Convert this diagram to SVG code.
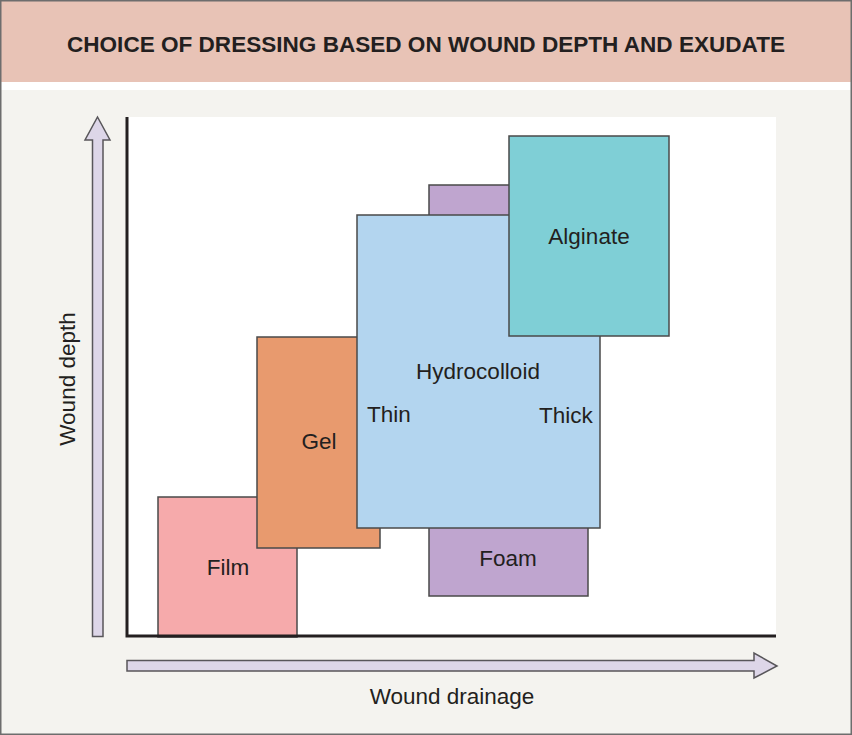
<svg xmlns="http://www.w3.org/2000/svg" width="852" height="735" viewBox="0 0 852 735">
<style>
.lbl{font-family:"Liberation Sans",Arial,sans-serif;font-size:22.5px;fill:#231f20;text-anchor:middle}
.box{stroke:#4a4a4a;stroke-width:1.5}
.arrow{fill:#ddd6e8;stroke:#58565a;stroke-width:1.5}
</style>
<rect x="0" y="0" width="852" height="735" fill="#f4f3ef"/>
<rect x="0" y="0" width="852" height="82" fill="#e8c3b6"/>
<rect x="0" y="82" width="852" height="8" fill="#ffffff"/>
<rect x="0.75" y="0.75" width="850.5" height="733.5" fill="none" stroke="#6d6d6d" stroke-width="1.5"/>
<text x="426" y="52" font-family="'Liberation Sans',Arial,sans-serif" font-weight="bold" font-size="21.5" fill="#231f20" text-anchor="middle" textLength="718" lengthAdjust="spacingAndGlyphs">CHOICE OF DRESSING BASED ON WOUND DEPTH AND EXUDATE</text>
<rect x="127" y="117" width="649" height="519" fill="#ffffff"/>
<g id="foam"><rect class="box" x="429" y="185" width="159" height="411" fill="#bfa5cf"/><text class="lbl" x="508" y="566">Foam</text></g>
<g id="film"><rect class="box" x="158" y="497" width="139" height="140" fill="#f6aaab"/><text class="lbl" x="228" y="575">Film</text></g>
<g id="gel"><rect class="box" x="257" y="337" width="123" height="211" fill="#e89a6e"/><text class="lbl" x="319" y="449">Gel</text></g>
<g id="hydrocolloid"><rect class="box" x="357" y="215" width="243" height="313" fill="#b3d5ef"/><text class="lbl" x="478" y="379">Hydrocolloid</text><text class="lbl" x="389" y="422">Thin</text><text class="lbl" x="566" y="423">Thick</text></g>
<g id="alginate"><rect class="box" x="509" y="136" width="160" height="200" fill="#7fcfd6"/><text class="lbl" x="589" y="244">Alginate</text></g>
<g id="axes">
<path d="M127 117 V636 H776" fill="none" stroke="#231f20" stroke-width="3"/>
<path class="arrow" d="M92.5 636.5 V140 H85 L97.5 117 L110 140 H103 V636.5 Z"/>
<path class="arrow" d="M127 660.5 H754 V653 L777 666 L754 678 V671 H127 Z"/>
</g>
<text class="lbl" x="452" y="704">Wound drainage</text>
<text class="lbl" transform="translate(75 379) rotate(-90)">Wound depth</text>
</svg>
